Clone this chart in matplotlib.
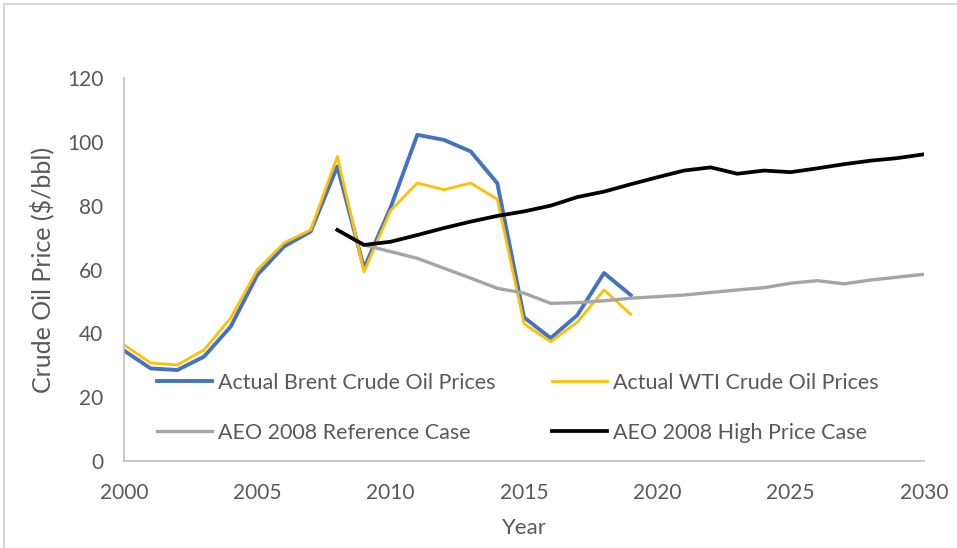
import matplotlib
matplotlib.use("Agg")
import matplotlib.pyplot as plt
from matplotlib.patches import Rectangle

plt.rcParams['font.family'] = ['Lato', 'DejaVu Sans']

years_actual = list(range(2000, 2020))
brent = [34.6, 29.0, 28.5, 32.7, 42.1, 58.3, 67.2, 71.9, 92.3, 60.4,
         79.5, 102.2, 100.6, 97.0, 87.0, 45.0, 38.5, 45.7, 58.9, 52.0]
wti = [36.4, 30.7, 30.1, 34.8, 44.8, 59.9, 68.3, 72.4, 95.4, 59.3,
       78.5, 87.1, 85.0, 87.1, 82.0, 43.0, 37.4, 43.5, 53.6, 46.0]

years_aeo = list(range(2008, 2031))
aeo_ref = [72.4, 67.7, 65.6, 63.5, 60.4, 57.3, 54.1, 52.6, 49.4, 49.6, 50.2, 51.0,
           51.5, 52.0, 52.8, 53.6, 54.3, 55.7, 56.5, 55.5, 56.7, 57.6, 58.5]
aeo_high = [72.4, 67.7, 68.7, 70.8, 73.0, 75.0, 76.8, 78.2, 80.0, 82.7, 84.4, 86.7,
            88.9, 91.0, 92.0, 90.0, 91.0, 90.5, 91.7, 93.0, 94.1, 94.9, 96.1]

xticks = [2000, 2005, 2010, 2015, 2020, 2025, 2030]
yticks = [0, 20, 40, 60, 80, 100, 120]

txt = '#595959'
fig = plt.figure(figsize=(9.57, 5.48), dpi=100)
fig.patches.append(Rectangle((4/957, -0.1), 1.0, 1 - 4/548 + 0.1, transform=fig.transFigure,
                             fill=False, edgecolor='#d0d0d0', linewidth=1.2))
ax = fig.add_axes([124/957, 1 - 461/548, 800/957, 383/548])

l_brent, = ax.plot(years_actual, brent, color='#4472C4', lw=2.8, label='Actual Brent Crude Oil Prices', solid_joinstyle='round')
l_wti, = ax.plot(years_actual, wti, color='#FFC000', lw=2.0, label='Actual WTI Crude Oil Prices', solid_joinstyle='round')
l_ref, = ax.plot(years_aeo, aeo_ref, color='#A5A5A5', lw=2.4, label='AEO 2008 Reference Case', solid_joinstyle='round')
l_high, = ax.plot(years_aeo, aeo_high, color='#000000', lw=2.7, label='AEO 2008 High Price Case', solid_joinstyle='round')

ax.set_xlim(2000, 2030)
ax.set_ylim(0, 120)
ax.set_xticks(xticks)
ax.set_yticks(yticks)
ax.tick_params(axis='both', length=0, labelsize=15, colors=txt)
ax.tick_params(axis='x', pad=16)
ax.tick_params(axis='y', pad=15)
for s in ['top', 'right']:
    ax.spines[s].set_visible(False)
for s in ['left', 'bottom']:
    ax.spines[s].set_color('#BFBFBF')
    ax.spines[s].set_linewidth(1.2)

ax.set_xlabel('Year', fontsize=16, color=txt, labelpad=11)
ax.set_ylabel('Crude Oil Price ($/bbl)', fontsize=18, color=txt, labelpad=9)

leg = ax.legend([l_brent, l_ref, l_wti, l_high],
                [l_brent.get_label(), l_ref.get_label(), l_wti.get_label(), l_high.get_label()],
                loc='upper left', bbox_to_anchor=(33/800, (461-373)/383), ncol=2, frameon=False,
                fontsize=15.5, handlelength=2.56, handletextpad=0.28, columnspacing=2.6,
                labelspacing=1.39, borderpad=0, borderaxespad=0, labelcolor=txt)

fig.savefig('out.png', dpi=100)
